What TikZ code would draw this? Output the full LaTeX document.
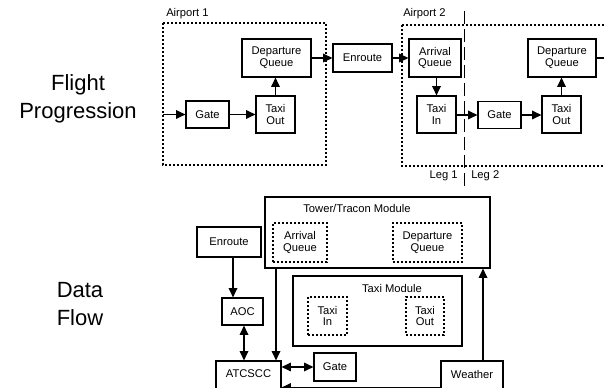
\documentclass[tikz,border=0pt]{standalone}
\usepackage{fontspec}
\setmainfont{Liberation Sans}
\usetikzlibrary{arrows.meta}
\newdimen\pxu
\pxu=0.75pt
\begin{document}
\begin{tikzpicture}[x=0.75pt,y=-0.75pt,
  box/.style={draw, line width=0.9pt, fill=white, inner sep=0pt, align=center,
    font=\fontsize{8.4}{8.7}\selectfont},
  dbox/.style={box, dash pattern=on 1.5pt off 1.5pt},
  lbl/.style={inner sep=0pt, font=\fontsize{8.4}{9}\selectfont},
  big/.style={inner sep=0pt, align=center, font=\fontsize{16.5}{21}\selectfont},
  arr/.style={line width=0.9pt, -{Triangle[length=7pt,width=6.5pt]}},
  darr/.style={line width=0.9pt, {Triangle[length=7pt,width=6.5pt]}-{Triangle[length=7pt,width=6.5pt]}},
  plain/.style={line width=0.9pt},
  dotbox/.style={line width=0.9pt, dash pattern=on 1.5pt off 1.5pt},
  legline/.style={line width=0.9pt, dash pattern=on 10pt off 3.5pt}
]
\useasboundingbox (0,0) rectangle (604,388);
\clip (0,0) rectangle (604,388);

% ---------------- Flight progression ----------------
\node[big] (fp) at (78,99) {Flight\\Progression};

\draw[dotbox] (163,23) rectangle (326,165);
\node[lbl, anchor=west] (ap1) at (166,14) {Airport 1};
\draw[dotbox] (402,25) -- (612,25);
\draw[dotbox] (402,25) -- (402,166) -- (612,166);
\node[lbl, anchor=west] (ap2) at (403,14) {Airport 2};

\draw[legline] (464.5,11) -- (464.5,188);
\node[lbl, anchor=east] (leg1) at (458,176) {Leg 1};
\node[lbl, anchor=west] (leg2) at (471,176) {Leg 2};

\node[box, minimum width=69\pxu, minimum height=38\pxu] (dep1) at (276.5,58) {Departure\\Queue};
\node[box, minimum width=59\pxu, minimum height=28\pxu] (enr1) at (362.5,58) {Enroute};
\node[box, minimum width=43\pxu, minimum height=27\pxu] (gate1) at (207.5,114.5) {Gate};
\node[box, minimum width=39\pxu, minimum height=37\pxu] (tout1) at (275.5,114.5) {Taxi\\Out};

\node[box, minimum width=52\pxu, minimum height=38\pxu] (arrq2) at (435,58) {Arrival\\Queue};
\node[box, minimum width=39\pxu, minimum height=37\pxu] (tin2) at (436.5,114.5) {Taxi\\In};
\node[box, minimum width=43\pxu, minimum height=27\pxu] (gate2) at (499.5,115) {Gate};
\node[box, minimum width=39\pxu, minimum height=37\pxu] (tout2) at (561.5,114.5) {Taxi\\Out};
\node[box, minimum width=68\pxu, minimum height=38\pxu] (dep2) at (562,58) {Departure\\Queue};

\coordinate (in1) at (163,114.5);
\coordinate (out2) at (610,58);
\draw[arr] (in1) -- (gate1.west);
\draw[arr] (gate1) -- (tout1);
\draw[arr] (tout1.north) -- (tout1.north |- dep1.south);
\draw[arr] (dep1) -- (enr1);
\draw[arr] (enr1) -- (arrq2);
\draw[arr] (arrq2.south -| tin2.north) -- (tin2.north);
\draw[arr] (tin2.east |- gate2) -- (gate2.west);
\draw[arr] (gate2) -- (tout2.west |- gate2);
\draw[arr] (tout2.north) -- (tout2.north |- dep2.south);
\draw[plain] (dep2.east) -- (out2);

% ---------------- Data flow ----------------
\node[big] (df) at (80,304) {Data\\Flow};

\node[box, minimum width=225\pxu, minimum height=71\pxu] (tower) at (377.5,232.5) {};
\node[lbl] (towerlbl) at (357,208) {Tower/Tracon Module};
\node[dbox, minimum width=54\pxu, minimum height=39\pxu] (arrD) at (300,242.5) {Arrival\\Queue};
\node[dbox, minimum width=69\pxu, minimum height=39\pxu] (depD) at (427.5,242.5) {Departure\\Queue};

\node[box, minimum width=169\pxu, minimum height=70\pxu] (taxi) at (377.5,311) {};
\node[lbl] (taxilbl) at (392,288) {Taxi Module};
\node[dbox, minimum width=39\pxu, minimum height=38\pxu] (tinD) at (327.5,316) {Taxi\\In};
\node[dbox, minimum width=38\pxu, minimum height=38\pxu] (toutD) at (425,316) {Taxi\\Out};

\node[box, minimum width=64\pxu, minimum height=30\pxu] (enrD) at (229,242) {Enroute};
\node[box, minimum width=41\pxu, minimum height=27\pxu] (aoc) at (242.5,311.5) {AOC};
\node[box, minimum width=65\pxu, minimum height=34\pxu,
  label={[lbl, yshift=3.5pt]center:ATCSCC}] (atc) at (248.5,378) {};
\node[box, minimum width=42\pxu, minimum height=28\pxu] (gateD) at (335,367) {Gate};
\node[box, minimum width=62\pxu, minimum height=34\pxu,
  label={[lbl, yshift=3pt]center:Weather}] (wea) at (472,378) {};

\coordinate (ex) at (233,0);
\coordinate (ax) at (244,0);
\coordinate (tx) at (276,0);
\coordinate (wx) at (483,0);
\coordinate (by) at (0,387.5);

\draw[arr] (enrD.south -| ex) -- (aoc.north -| ex);
\draw[darr] (aoc.south -| ax) -- (atc.north -| ax);
\draw[arr] (tower.south -| tx) -- (atc.north -| tx);
\draw[darr] (atc.east |- gateD) -- (gateD.west);
\draw[arr] (wea.north -| wx) -- (tower.south -| wx);
\draw[arr] (wea.west |- by) -- (atc.east |- by);
\end{tikzpicture}
\end{document}
